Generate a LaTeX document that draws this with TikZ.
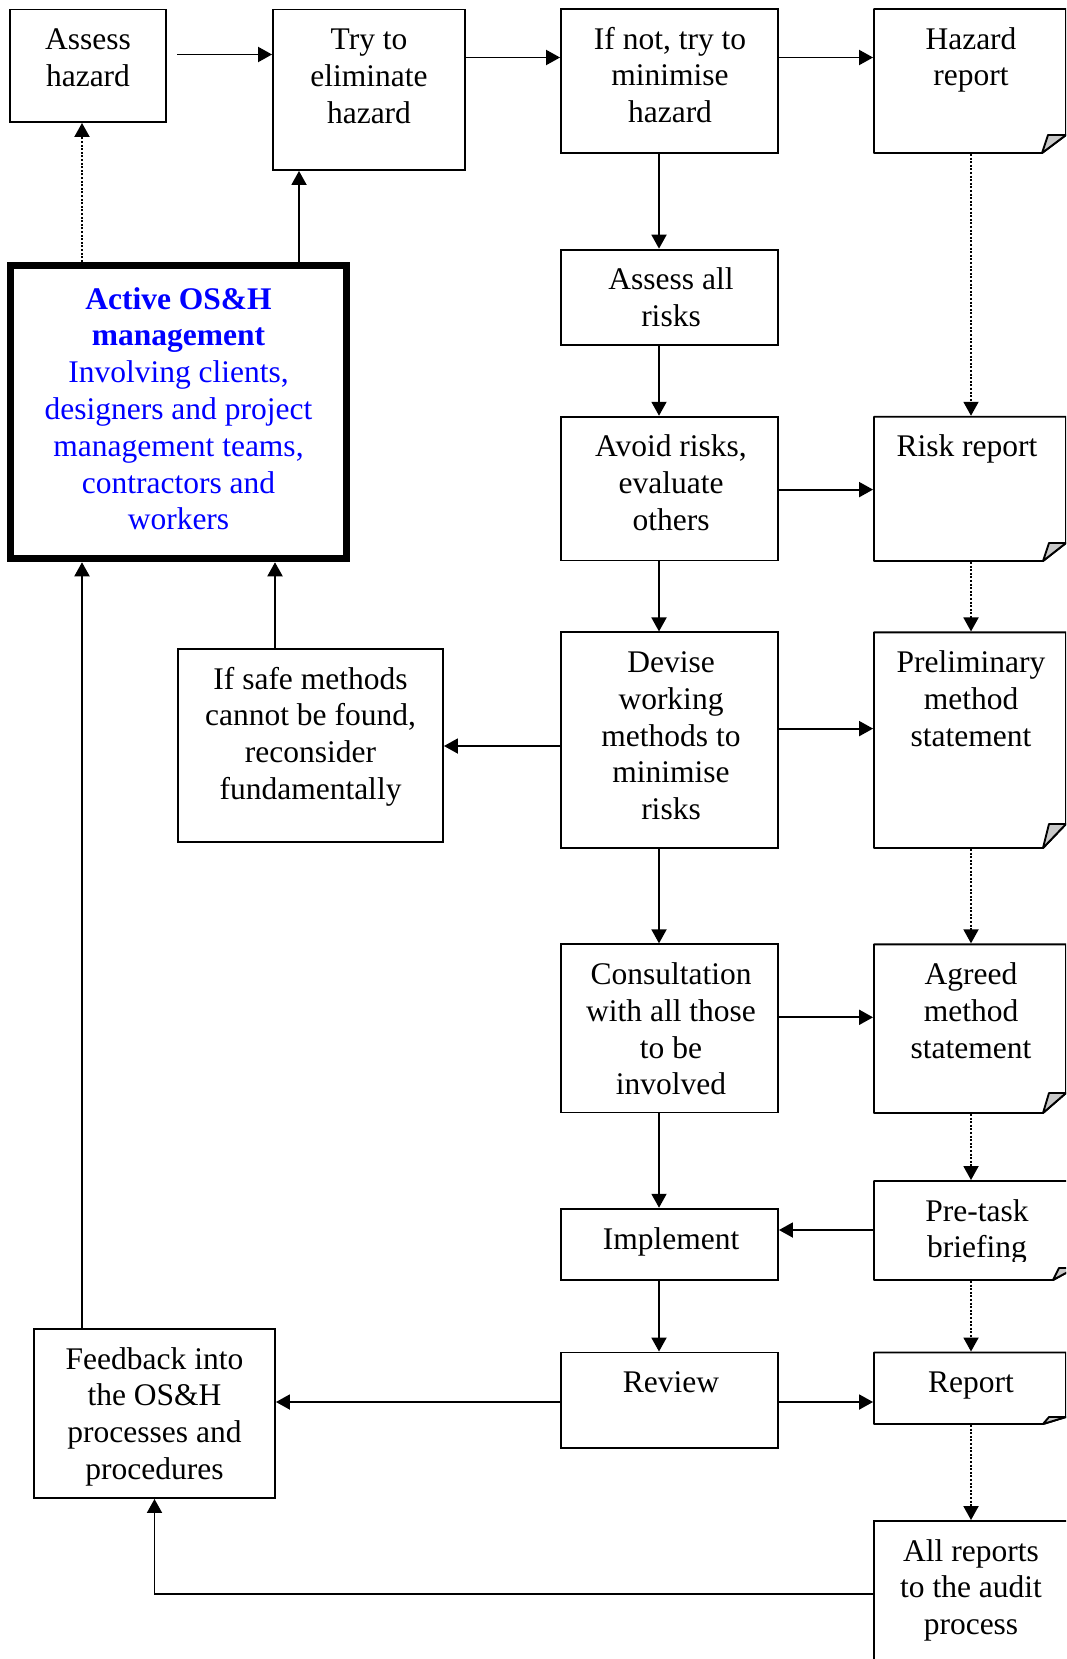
\documentclass[tikz,border=0pt]{standalone}
\usepackage{fontspec}
\setmainfont{Liberation Serif}
\usetikzlibrary{arrows.meta,fit}
\definecolor{foldgray}{RGB}{200,200,200}

% document shape with a turned-up bottom-right corner:
% name, top, bottom, right edge, fold width, fold height
\newcommand\docbox[6]{%
  \node[fit={(874,#2)(#4,#3)}, inner sep=0pt, line width=1.9pt] (#1) {};
  \draw[line width=1.9pt, line join=round]
    (#4,#3-#6) -- (#4,#2) -- (874,#2) -- (874,#3) -- (#4-#5,#3) -- cycle;
  \draw[line width=1.9pt, line join=round, fill=foldgray]
    (#4-#5,#3) -- (#4-#5+6,#3-#6) -- (#4,#3-#6) -- cycle;
}

\begin{document}
\begin{tikzpicture}[x=1pt,y=-1pt,
  box/.style={draw, line width=1.9pt, inner sep=0pt, fit={#1}},
  thickbox/.style={draw, line width=7.5pt, inner sep=0pt, fit={#1}},
  lbl/.style={anchor=north, inner sep=0pt, align=center,
    font=\fontsize{31.5}{36.8}\selectfont},
  arr/.style={line width=1.9pt, -{Triangle[length=14pt,width=15pt]}},
  dotarr/.style={arr, dash pattern=on 2pt off 1.6pt},
]
\useasboundingbox (0,0) rectangle (1066,1659);
\clip (0,0) rectangle (1066,1659);
\fill[white] (0,0) rectangle (1066,1659);

% ---------- process boxes ----------
\node[box={(10,9.5)(166,122)}] (ah) {};
\node[lbl] at (88,23.7) {\strut Assess\\hazard};

\node[box={(273,9.5)(465,170)}] (te) {};
\node[lbl] at (369,23.7) {\strut Try to\\eliminate\\hazard};

\node[box={(561,9)(778,153)}] (mh) {};
\node[lbl] at (670,23.2) {\strut If not, try to\\minimise\\hazard};

\node[thickbox={(10.5,265.5)(346.5,558.5)}] (act) {};
\node[lbl, text=blue] at (178.5,283.2)
  {\strut\bfseries Active OS\&H\\\bfseries management\\Involving clients,\\designers and project\\management teams,\\contractors and\\workers};

\node[box={(561,249.6)(778,344.7)}] (aa) {};
\node[lbl] at (671,263.8) {\strut Assess all\\risks};

\node[box={(561,416.7)(778,560.5)}] (av) {};
\node[lbl] at (671,430.9) {\strut Avoid risks,\\evaluate\\others};

\node[box={(178,649)(443,842)}] (sf) {};
\node[lbl] at (310.5,663.2) {\strut If safe methods\\cannot be found,\\reconsider\\fundamentally};

\node[box={(561,632.4)(778,848)}] (dv) {};
\node[lbl] at (671,646.6) {\strut Devise\\working\\methods to\\minimise\\risks};

\node[box={(561,944.3)(778,1112.5)}] (co) {};
\node[lbl] at (671,958.5) {\strut Consultation\\with all those\\to be\\involved};

\node[box={(561,1208.7)(778,1279.6)}] (im) {};
\node[lbl] at (671,1224) {\strut Implement};

\node[box={(561,1352.5)(778,1447.7)}] (rv) {};
\node[lbl] at (671,1366.7) {\strut Review};

\node[box={(34,1329)(275,1498)}] (fb) {};
\node[lbl] at (154.5,1343.2) {\strut Feedback into\\the OS\&H\\processes and\\procedures};

\node[box={(874,1521)(1080,1700)}] (al) {};
\node[lbl] at (971,1535.2) {\strut All reports\\to the audit\\process};

% ---------- documents ----------
\docbox{hr}{9}{153}{1066}{24}{18}
\node[lbl] at (971,23.2) {\strut Hazard\\report};

\docbox{rr}{416.7}{561}{1066}{23}{18}
\node[lbl] at (967,430.9) {\strut Risk report};

\docbox{pm}{632.4}{848}{1066}{23}{24}
\node[lbl] at (971,646.6) {\strut Preliminary\\method\\statement};

\docbox{am}{944.3}{1113}{1066}{23}{20}
\node[lbl] at (971,958.5) {\strut Agreed\\method\\statement};

\docbox{pt}{1181}{1280}{1075}{22}{12}
\begin{scope}
  \clip (874,1181) rectangle (1075,1261);
  \node[lbl] at (977,1195.2) {\strut Pre-task\\briefing};
\end{scope}

\docbox{rp}{1352.5}{1424}{1066}{23}{7}
\node[lbl] at (971,1366.7) {\strut Report};

% ---------- guide positions for connectors ----------
\coordinate (xa) at (82,0);
\coordinate (xb) at (299,0);
\coordinate (xc) at (275,0);
\coordinate (xm) at (659,0);
\coordinate (xr) at (971,0);
\coordinate (gap) at (177,54.5);
\coordinate (y2) at (0,57.5);
\coordinate (y3) at (0,489.6);
\coordinate (y4) at (0,728.6);
\coordinate (y5) at (0,746);
\coordinate (y6) at (0,1017.3);
\coordinate (y7) at (0,1230);
\coordinate (y8) at (0,1402);
\coordinate (y9) at (0,1594);

% ---------- connectors ----------
\draw[arr] (gap) -- (te.west |- gap);
\draw[arr] (te.east |- y2) -- (mh.west |- y2);
\draw[arr] (mh.east |- y2) -- (hr.west |- y2);

\draw[dotarr] (act.north -| xa) -- (ah.south -| xa);
\draw[arr] (act.north -| xb) -- (te.south -| xb);

\draw[arr] (mh.south -| xm) -- (aa.north -| xm);
\draw[arr] (aa.south -| xm) -- (av.north -| xm);
\draw[arr] (av.south -| xm) -- (dv.north -| xm);
\draw[arr] (dv.south -| xm) -- (co.north -| xm);
\draw[arr] (co.south -| xm) -- (im.north -| xm);
\draw[arr] (im.south -| xm) -- (rv.north -| xm);

\draw[dotarr] (hr.south -| xr) -- (rr.north -| xr);
\draw[dotarr] (rr.south -| xr) -- (pm.north -| xr);
\draw[dotarr] (pm.south -| xr) -- (am.north -| xr);
\draw[dotarr] (am.south -| xr) -- (pt.north -| xr);
\draw[dotarr] (pt.south -| xr) -- (rp.north -| xr);
\draw[dotarr] (rp.south -| xr) -- (al.north -| xr);

\draw[arr] (av.east |- y3) -- (rr.west |- y3);
\draw[arr] (dv.east |- y4) -- (pm.west |- y4);
\draw[arr] (dv.west |- y5) -- (sf.east |- y5);
\draw[arr] (sf.north -| xc) -- (act.south -| xc);
\draw[arr] (co.east |- y6) -- (am.west |- y6);
\draw[arr] (pt.west |- y7) -- (im.east |- y7);
\draw[arr] (rv.west |- y8) -- (fb.east |- y8);
\draw[arr] (rv.east |- y8) -- (rp.west |- y8);
\draw[arr] (al.west |- y9) -| (fb.south);
\draw[arr] (fb.north -| xa) -- (act.south -| xa);
\end{tikzpicture}
\end{document}
